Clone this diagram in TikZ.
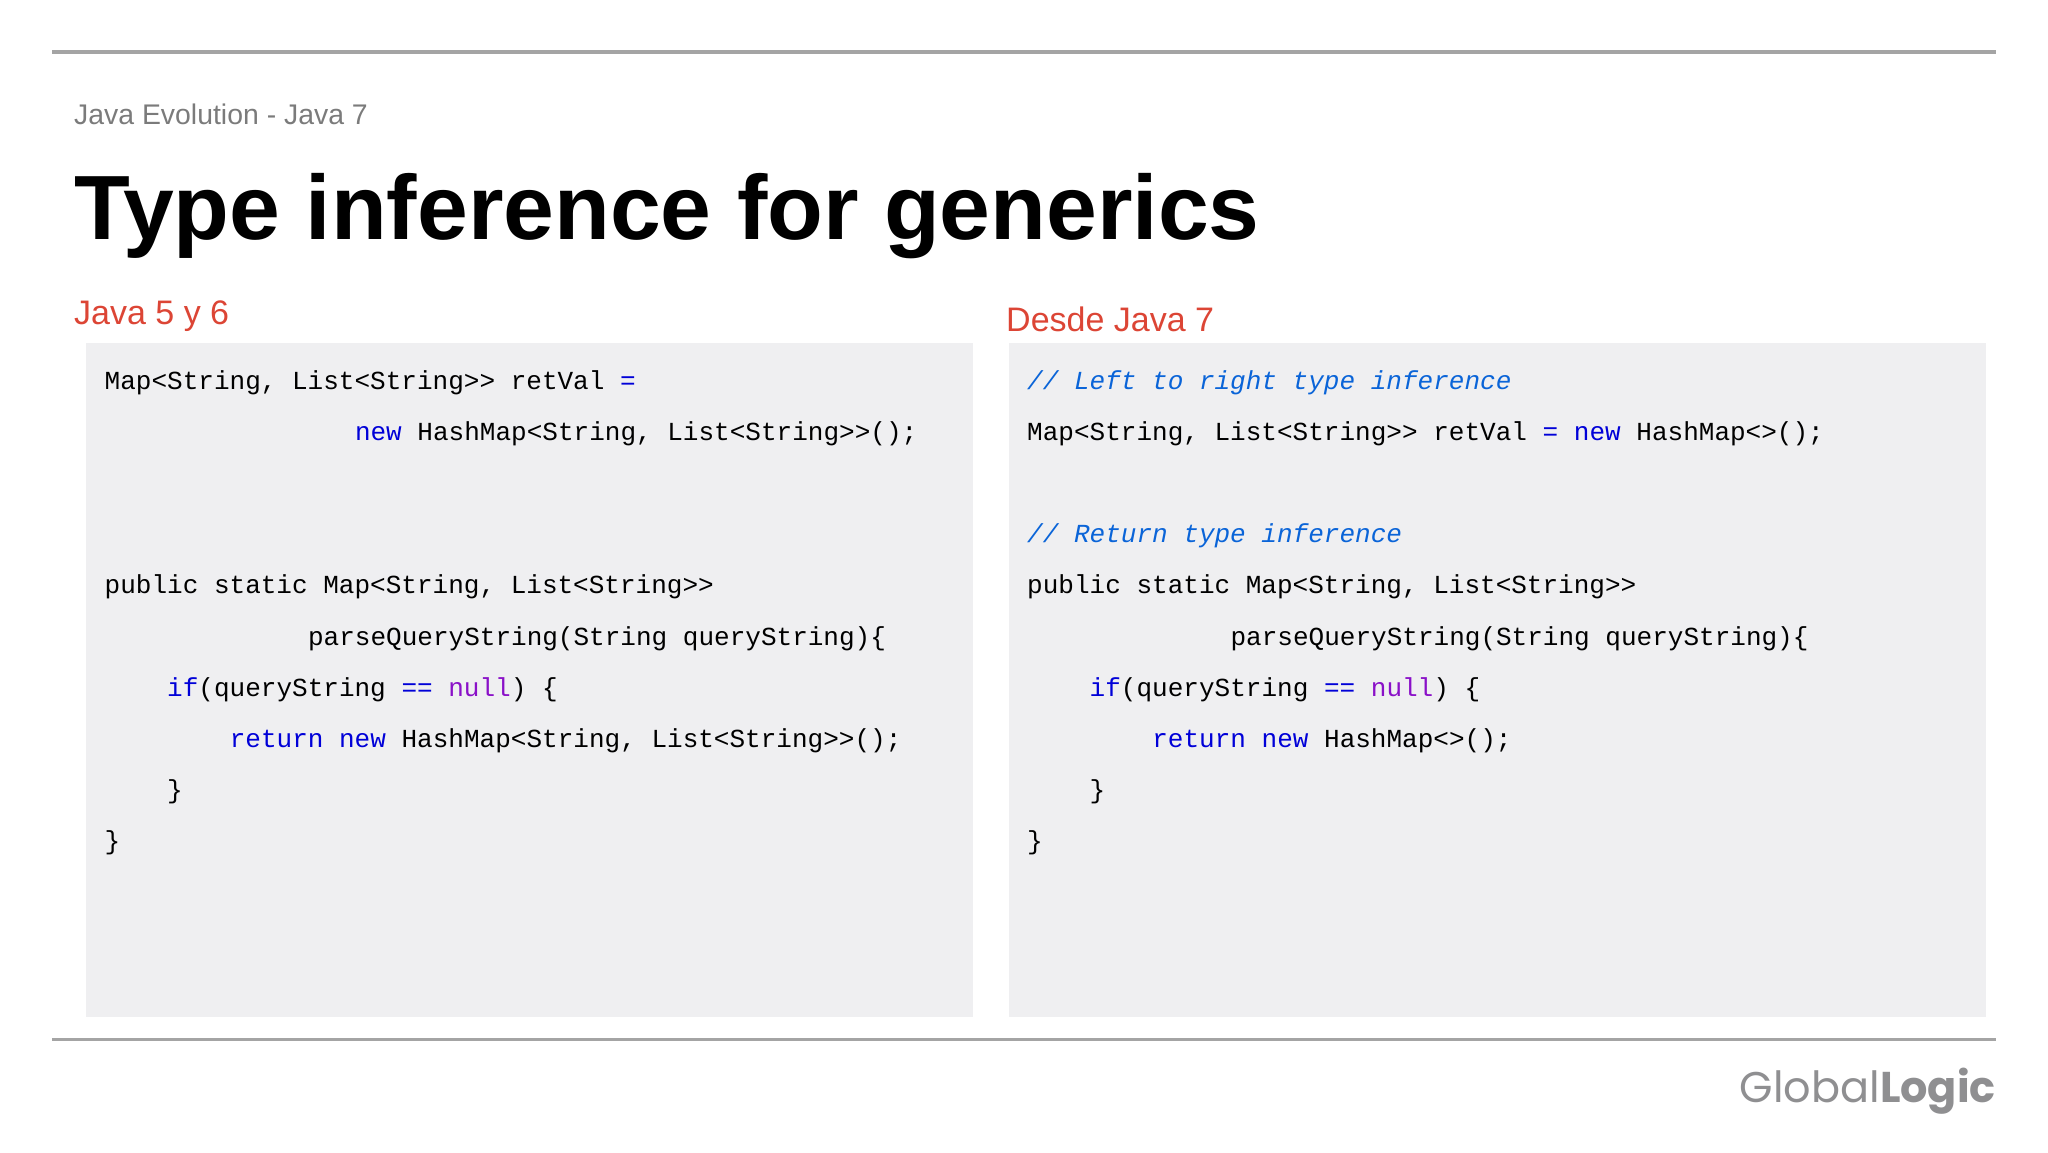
\documentclass[tikz,border=0pt]{standalone}
\usepackage{fontspec}
\usepackage{xcolor}
\setmainfont{Liberation Sans}
\newfontfamily\codefont{Liberation Mono}
\newfontfamily\logofont{Poppins}
\definecolor{rulegrey}{HTML}{A4A4A4}
\definecolor{subgrey}{HTML}{7B7B7B}
\definecolor{headred}{HTML}{DC4535}
\definecolor{panelgrey}{HTML}{EFEFF1}
\definecolor{kwblue}{HTML}{0000D8}
\definecolor{commentblue}{HTML}{0A64D8}
\definecolor{nullpurple}{HTML}{8A10C8}
\definecolor{logogrey}{HTML}{8F8F91}
\newcommand{\kw}[1]{\textcolor{kwblue}{#1}}
\newcommand{\nul}[1]{\textcolor{nullpurple}{#1}}
\tikzset{
  rulerline/.style={draw=rulegrey, line width=3.5pt},
  panel/.style={fill=panelgrey, anchor=north west, inner sep=0pt},
  codeline/.style={anchor=base west, inner sep=0pt, font=\codefont\fontsize{26.03}{26}\selectfont},
  commentline/.style={codeline, text=commentblue, font=\codefont\itshape\fontsize{26.03}{26}\selectfont},
  heading/.style={anchor=base west, inner sep=0pt, text=headred, font=\fontsize{34}{34}\selectfont}
}
\begin{document}
\begin{tikzpicture}[x=1pt,y=-1pt]
    \useasboundingbox (0,0) rectangle (2048,1152);
    \coordinate (toprulea) at (52,52);
    \coordinate (toprulez) at (1996,52);
    \coordinate (botrulea) at (52,1039.5);
    \coordinate (botrulez) at (1996,1039.5);
    \draw [rulerline] (toprulea) -- (toprulez);
    \draw [rulerline] (botrulea) -- (botrulez);
    \node (subtitle) [anchor=base west, inner sep=0pt, text=subgrey, font=\fontsize{28.4}{30}\selectfont] at (74,124) {Java Evolution - Java 7};
    \node (title) [anchor=base west, inner sep=0pt, font=\bfseries\fontsize{91.3}{92}\selectfont] at (74,239) {Type inference for generics};
    \node (headleft) [heading] at (74,324) {Java 5 y 6};
    \node (headright) [heading] at (1006,331) {Desde Java 7};
    \node (panelleft) [panel, minimum width=887pt, minimum height=674pt] at (86,343) {};
    \node (panelright) [panel, minimum width=977pt, minimum height=674pt] at (1008.5,343) {};
    % left column
    \node (la) [codeline] at (104.5,389) {Map<String, List<String>> retVal \kw{=}};
    \node (lb) [codeline] at (354.8,440.2) {\kw{new} HashMap<String, List<String>>();};
    \node (lc) [codeline] at (104.5,593.8) {public static Map<String, List<String>>};
    \node (ld) [codeline] at (307.9,645) {parseQueryString(String queryString)\{};
    \node (le) [codeline] at (167,696.2) {\kw{if}(queryString \kw{==} \nul{null}) \{};
    \node (lf) [codeline] at (229.6,747.4) {\kw{return new} HashMap<String, List<String>>();};
    \node (lg) [codeline] at (167,798.6) {\}};
    \node (lh) [codeline] at (104.5,849.8) {\}};
    % right column
    \node (ra) [commentline] at (1027,389) {// Left to right type inference};
    \node (rb) [codeline] at (1027,440.2) {Map<String, List<String>> retVal \kw{= new} HashMap<>();};
    \node (rc) [commentline] at (1027,542.6) {// Return type inference};
    \node (rd) [codeline] at (1027,593.8) {public static Map<String, List<String>>};
    \node (re) [codeline] at (1230.4,645) {parseQueryString(String queryString)\{};
    \node (rf) [codeline] at (1089.5,696.2) {\kw{if}(queryString \kw{==} \nul{null}) \{};
    \node (rg) [codeline] at (1152.1,747.4) {\kw{return new} HashMap<>();};
    \node (rh) [codeline] at (1089.5,798.6) {\}};
    \node (ri) [codeline] at (1027,849.8) {\}};
    \node (logo) [anchor=base east, inner sep=0pt, text=logogrey, font=\logofont\fontsize{43}{44}\selectfont] at (1996,1102) {Global\textbf{Logic}};
\end{tikzpicture}
\end{document}
